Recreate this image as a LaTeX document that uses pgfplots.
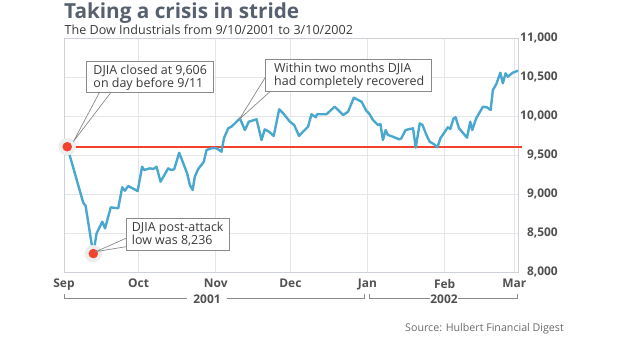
\documentclass[border=0pt]{standalone}
\usepackage{pgfplots}
\pgfplotsset{compat=1.18}
\usepackage{fontspec}
\setmainfont{Open Sans}
\definecolor{titlec}{HTML}{56606E}
\definecolor{subc}{HTML}{3A3A3A}
\definecolor{linec}{HTML}{4AA8CF}
\definecolor{redc}{HTML}{F5402C}
\definecolor{gridc}{HTML}{E4E6E9}
\definecolor{framec}{HTML}{CDD2D8}
\definecolor{tickc}{HTML}{505050}
\definecolor{boxc}{HTML}{8A8A8A}
\definecolor{halo}{HTML}{EDEDED}
\definecolor{boxtext}{HTML}{3A3A3A}
\definecolor{srcc}{HTML}{6A6A6A}

\begin{document}
\begin{tikzpicture}
\path[use as bounding box] (0,0) rectangle (624bp,351bp);
\begin{axis}[
  at={(64bp,79bp)}, anchor=south west,
  scale only axis, width=454bp, height=234bp,
  xmin=0, xmax=182.5, ymin=8000, ymax=11000,
  clip=false,
  axis line style={framec, line width=0.8bp},
  grid=major, grid style={gridc, line width=0.8bp},
  major tick length=0pt,
  xtick={0,30,61,91,122,153,181},
  xticklabels={Sep,Oct,Nov,Dec,Jan,Feb,Mar},
  ytick={8000,8500,9000,9500,10000,10500,11000},
  scaled y ticks=false,
  yticklabel pos=right,
  /pgf/number format/assume math mode=true,
  /pgf/number format/1000 sep={,},
  yticklabel style={anchor=east, inner sep=0pt, xshift=40bp, font=\bfseries\fontsize{12}{14}\selectfont, text=tickc},
  xticklabel style={anchor=north, inner sep=0pt, yshift=-7bp, font=\bfseries\fontsize{12}{14}\selectfont, text=tickc},
]
\addplot[only marks, mark=*, mark size=8.5bp, color=halo] coordinates {(1.3,9606) (11.8,8236)};
\addplot[redc, line width=2bp] coordinates {(1.3,9606) (184,9606)};
\addplot[linec, line width=2.4bp, line join=round] coordinates {
(1.3,9606) (7.75,8888) (8.7,8846) (11.5,8282) (11.8,8236) (13.1,8496) (15.4,8645) (16.5,8560)
(18.8,8829) (21.8,8817) (23.4,9086) (24.5,9042) (25.8,9103) (29.6,9038) (31.4,9350) (32.2,9308)
(34.5,9329) (35.9,9320) (37.2,9350) (38.8,9158) (41.9,9329) (43.0,9308) (44.3,9317) (46.3,9529)
(49.5,9265) (50.6,9115) (51.7,9051) (52.6,9222) (53.9,9317) (56.2,9414) (57.3,9564) (59.3,9586)
(61.3,9586) (63.3,9542) (64.3,9714) (66.0,9842) (67.3,9863) (68.7,9906) (70.7,9970) (72.7,9820)
(74.3,9927) (77.4,9958) (79.4,9692) (80.7,9829) (82.4,9799) (84.3,9744) (86.5,10086) (88.1,10035)
(90.8,9927) (92.5,9885) (94.5,9744) (96.1,9799) (98.1,9863) (99.5,10022) (101.2,9983) (101.7,10022)
(105.5,10022) (108.8,10119) (110.2,10077) (112.2,10013) (114.2,10055) (116.5,10235) (119.6,10183) (121.6,10064)
(122.6,10035) (124.2,9949) (126.2,9885) (127.2,9897) (128.2,9692) (129.3,9820) (130.2,9756) (132.2,9735)
(134.7,9701) (135.6,9714) (137.3,9820) (140.3,9842) (141.4,9594) (143.0,9906) (144.1,9885) (145.7,9756)
(147.0,9670) (148.6,9641) (150.1,9599) (151.3,9714) (154.3,9855) (155.3,9833) (156.6,9970) (157.4,9983)
(158.8,9842) (162.0,9722) (163.3,9927) (164.1,9820) (165.7,9970) (168.4,10119) (170.0,10111) (171.5,10077)
(172.4,10333) (173.8,10410) (175.4,10555) (176.4,10419) (177.5,10547) (178.4,10504) (180.4,10555) (182.5,10581)
};
\addplot[only marks, mark=*, mark size=4.5bp, color=redc] coordinates {(1.3,9606) (11.8,8236)};
\end{axis}

\begin{scope}[x=1bp, y=-1bp, yshift=351bp]
% title
\node[anchor=base west, inner sep=0, font=\bfseries\fontsize{20.8}{24}\selectfont, text=titlec] at (64,18.5) {Taking a crisis in stride};
\node[anchor=base west, inner sep=0, font=\fontsize{12.6}{15}\selectfont, text=subc] at (64.5,34.3) {The Dow Industrials from 9/10/2001 to 3/10/2002};

% annotation 1
\draw[boxc, fill=white, line width=0.7bp] (99.3,92.7) -- (73.3,141.7) -- (110.7,92.7);
\draw[boxc, fill=white, line width=0.7bp] (86.7,61.7) rectangle (213.3,92.7);
\node[anchor=base west, inner sep=0, font=\fontsize{12.5}{14}\selectfont, text=boxtext] at (93.3,74.5) {DJIA closed at 9,606};
\node[anchor=base west, inner sep=0, font=\fontsize{12.5}{14}\selectfont, text=boxtext] at (93.3,87.2) {on day before 9/11};

% annotation 2
\draw[boxc, fill=white, line width=0.7bp] (265.7,76.7) -- (239.3,119.3) -- (270.7,91);
\draw[boxc, fill=white, line width=0.7bp] (265.7,59.3) rectangle (431.7,91);
\node[anchor=base west, inner sep=0, font=\fontsize{12.5}{14}\selectfont, text=boxtext] at (274,72.7) {Within two months DJIA};
\node[anchor=base west, inner sep=0, font=\fontsize{12.5}{14}\selectfont, text=boxtext] at (274,85.3) {had completely recovered};

% annotation 3
\draw[boxc, fill=white, line width=0.7bp] (126,238.3) -- (95.7,251.7) -- (126,246.7);
\draw[boxc, fill=white, line width=0.7bp] (126,218.3) rectangle (229,250);
\node[anchor=base west, inner sep=0, font=\fontsize{12.5}{14}\selectfont, text=boxtext] at (131.7,231.7) {DJIA post-attack};
\node[anchor=base west, inner sep=0, font=\fontsize{12.5}{14}\selectfont, text=boxtext] at (131.7,244.4) {low was 8,236};

% year brackets
\draw[boxc, line width=0.8bp] (64.5,294.5) -- (64.5,298.5) -- (187,298.5);
\draw[boxc, line width=0.8bp] (227,298.5) -- (364,298.5) -- (364,294.5);
\draw[boxc, line width=0.8bp] (369,294.5) -- (369,298.5) -- (430,298.5);
\draw[boxc, line width=0.8bp] (458,298.5) -- (517.5,298.5) -- (517.5,294.5);
\node[inner sep=0, font=\bfseries\fontsize{12}{14}\selectfont, text=tickc] at (207,299) {2001};
\node[inner sep=0, font=\bfseries\fontsize{12}{14}\selectfont, text=tickc] at (444,299) {2002};

% source
\node[anchor=base east, inner sep=0, font=\fontsize{10.7}{13}\selectfont, text=srcc] at (564,332) {Source: Hulbert Financial Digest};
\end{scope}
\end{tikzpicture}
\end{document}
